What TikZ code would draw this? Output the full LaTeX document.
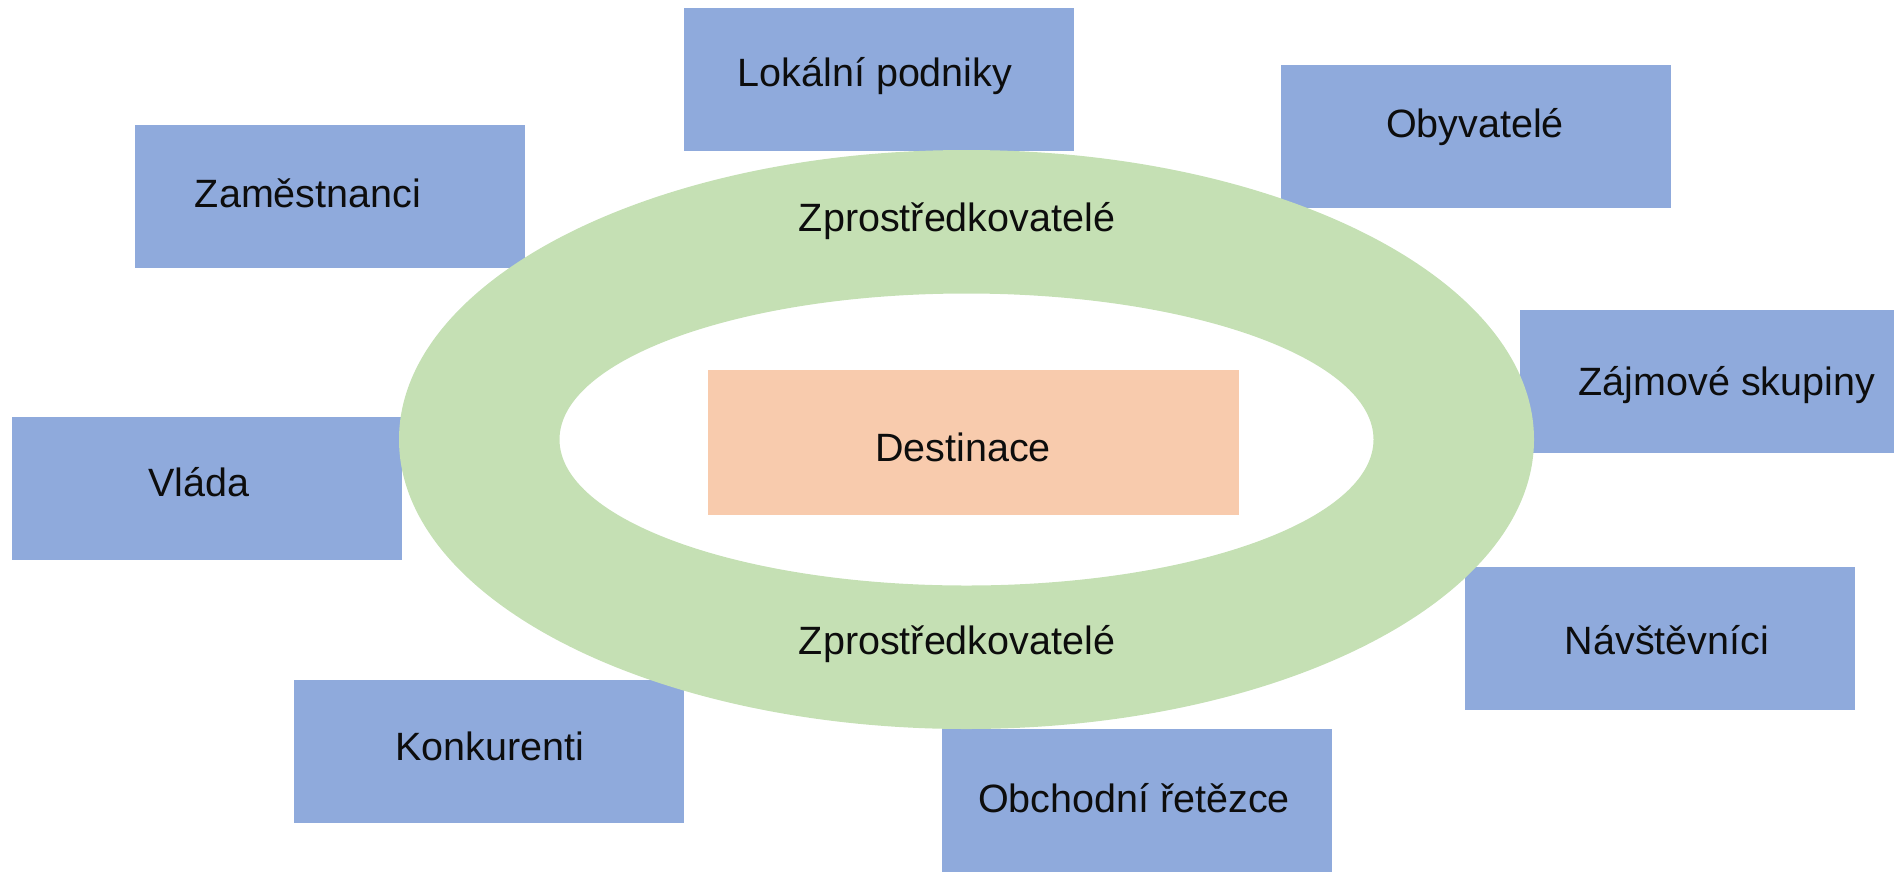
\documentclass[tikz,border=0pt]{standalone}
\usepackage{fontspec}
\setmainfont{Liberation Sans}
\definecolor{boxblue}{HTML}{8FAADC}
\definecolor{ringgreen}{HTML}{C5E0B4}
\definecolor{destorange}{HTML}{F8CBAD}
\tikzset{
  stakebox/.style={fill=boxblue, draw=none, minimum width=390pt, minimum height=143pt, inner sep=0pt},
  destbox/.style={fill=destorange, draw=none, minimum width=531pt, minimum height=145pt, inner sep=0pt},
  lbl/.style={font=\fontsize{39.5}{46}\selectfont, text=black!95, inner sep=0pt, anchor=center}
}
\begin{document}
\begin{tikzpicture}[x=1pt,y=-1pt]
\useasboundingbox (0,0) rectangle (1894,871);
% stakeholder boxes
\node[stakebox] (lok) at (878.5,79) {};
\node[stakebox] (oby) at (1475.5,136) {};
\node[stakebox] (zam) at (329.5,196.5) {};
\node[stakebox] (zaj) at (1715,381) {};
\node[stakebox] (vla) at (207,488) {};
\node[stakebox] (nav) at (1659.5,638) {};
\node[stakebox] (kon) at (489,751) {};
\node[stakebox] (obc) at (1136.5,800) {};
% ring
\fill[ringgreen, even odd rule] (966.5,439.5) ellipse [x radius=567.5, y radius=289.5]
  (966.5,439.5) ellipse [x radius=407, y radius=146];
\coordinate (ringc) at (966.5,439.5);
% destination
\node[destbox] (dest) at (973.5,442.5) {};
% labels
\node[lbl] (tlok) at (875,76) {Lokální podniky};
\node[lbl] (toby) at (1475,127) {Obyvatelé};
\node[lbl] (tzam) at (308,193) {Zaměstnanci};
\node[lbl] (tzaj) at (1727,385) {Zájmové skupiny};
\node[lbl] (tvla) at (199,482) {Vláda};
\node[lbl] (tnav) at (1667,640) {Návštěvníci};
\node[lbl] (tkon) at (490,746) {Konkurenti};
\node[lbl] (tobc) at (1134,798) {Obchodní řetězce};
\node[lbl] (tdest) at (963,447) {Destinace};
\node[lbl] (tz1) at (957,221) {Zprostředkovatelé};
\node[lbl] (tz2) at (957,644) {Zprostředkovatelé};
\end{tikzpicture}
\end{document}
